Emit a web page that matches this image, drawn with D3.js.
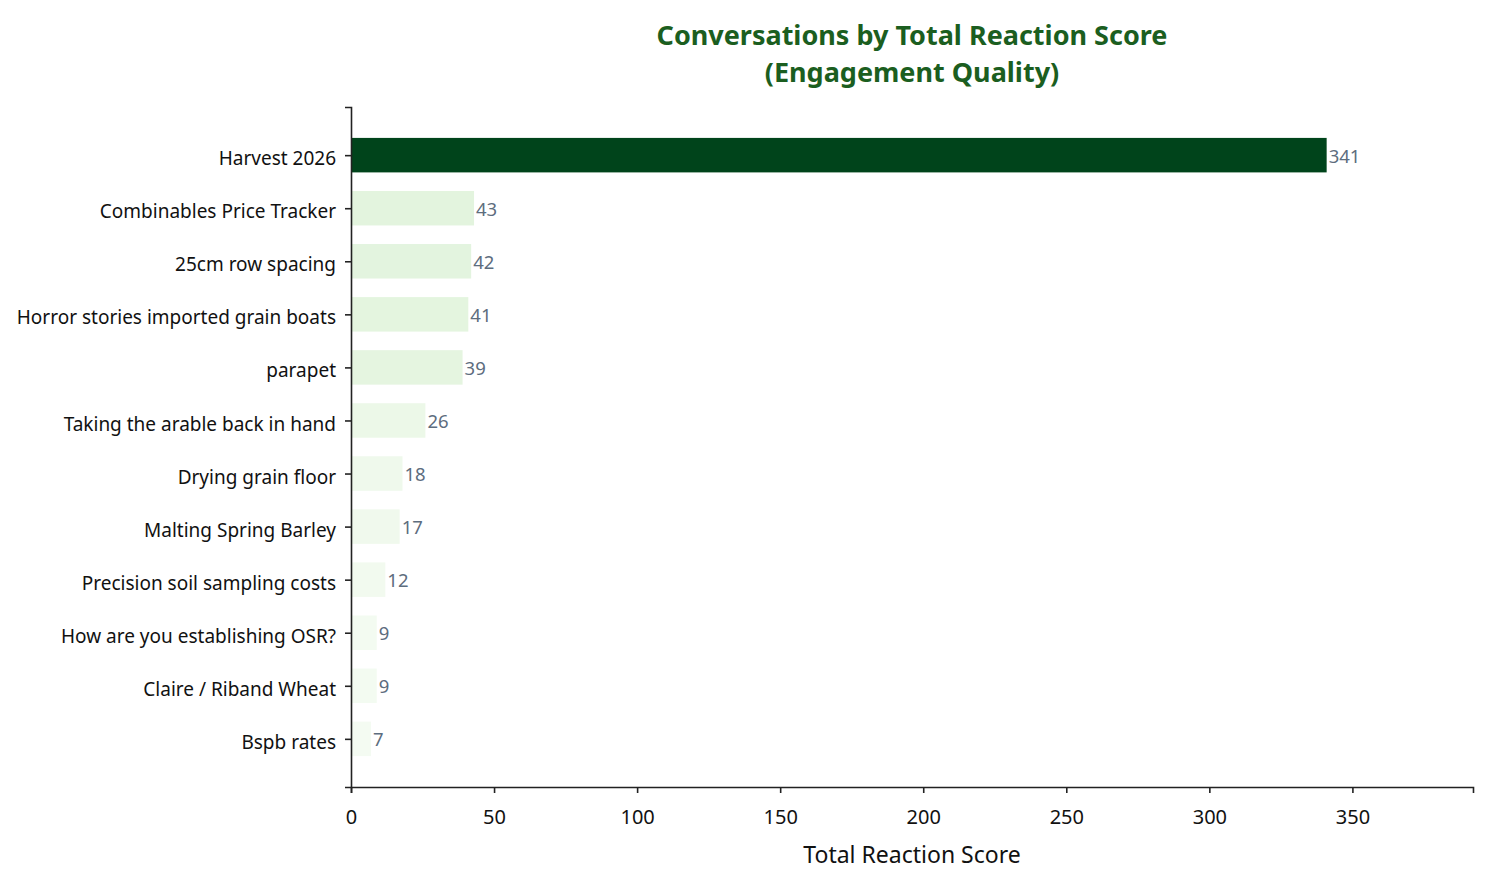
<!DOCTYPE html>
<meta charset="utf-8">
<style>
body { margin: 0; background: #fff; }
text { font-family: "Noto Sans", sans-serif; }
.domain, .tick line { stroke: #222; }
</style>
<body>
<script src="https://d3js.org/d3.v7.min.js"></script>
<script>

var topics = ["Harvest 2026", "Combinables Price Tracker", "25cm row spacing",
    "Horror stories imported grain boats", "parapet", "Taking the arable back in hand",
    "Drying grain floor", "Malting Spring Barley", "Precision soil sampling costs",
    "How are you establishing OSR?", "Claire / Riband Wheat", "Bspb rates"];
var scores = [341, 43, 42, 41, 39, 26, 18, 17, 12, 9, 9, 7];
var xTicks = [0, 50, 100, 150, 200, 250, 300, 350];

var width = 1487, height = 885,
    margin = {top: 107, right: 14, bottom: 98, left: 351};

var svg = d3.select("body").append("svg")
    .attr("width", width)
    .attr("height", height);

var maxScore = d3.max(scores);

var x = d3.scaleLinear()
    .domain([0, maxScore * 1.15])
    .range([margin.left, width - margin.right]);

// matplotlib-style bar band: bar height 0.65 of a step, 5% padding
var n = topics.length,
    barH = 0.65,
    pad = (n - 1 + barH) * 0.05 + barH / 2;
var yLin = d3.scaleLinear()
    .domain([-pad, n - 1 + pad])
    .range([margin.top, height - margin.bottom]);
var step = yLin(1) - yLin(0);

var color = function(v) { return d3.interpolateGreens(v / maxScore); };

svg.append("g")
  .selectAll("rect")
    .data(scores)
  .enter().append("rect")
    .attr("x", x(0))
    .attr("y", function(d, i) { return yLin(i) - step * barH / 2; })
    .attr("width", function(d) { return x(d) - x(0); })
    .attr("height", step * barH)
    .attr("fill", color);

svg.append("g")
  .selectAll("text")
    .data(scores)
  .enter().append("text")
    .attr("x", function(d) { return x(d) + 2; })
    .attr("y", function(d, i) { return yLin(i) + 1; })
    .attr("dy", "0.35em")
    .attr("font-size", 18.5)
    .attr("fill", "#5d6d7e")
    .text(function(d) { return d; });

// y axis
var yAxis = d3.axisLeft(yLin)
    .tickValues(d3.range(n))
    .tickFormat(function(i) { return topics[i]; })
    .tickSize(6)
    .tickPadding(9);

var gy = svg.append("g")
    .attr("transform", "translate(" + margin.left + ",0)")
    .call(yAxis);
gy.select(".domain").attr("stroke-width", 1.6);
gy.selectAll(".tick line").attr("stroke-width", 1.6);
gy.selectAll(".tick text")
    .attr("font-size", 19)
    .attr("fill", "#111")
    .attr("y", 3.5);

// x axis
var xAxis = d3.axisBottom(x)
    .tickValues(xTicks)
    .tickSize(6)
    .tickPadding(17);

var gx = svg.append("g")
    .attr("transform", "translate(0," + (height - margin.bottom) + ")")
    .call(xAxis);
gx.select(".domain").attr("stroke-width", 1.6);
gx.selectAll(".tick line").attr("stroke-width", 1.6);
gx.selectAll(".tick text").attr("font-size", 20).attr("fill", "#111");

svg.append("text")
    .attr("x", (margin.left + width - margin.right) / 2)
    .attr("y", 863)
    .attr("text-anchor", "middle")
    .attr("font-size", 23)
    .attr("fill", "#111")
    .text("Total Reaction Score");

var title = svg.append("text")
    .attr("text-anchor", "middle")
    .attr("font-size", 27)
    .attr("font-weight", "bold")
    .attr("fill", "#1b5e20");
title.append("tspan")
    .attr("x", (margin.left + width - margin.right) / 2)
    .attr("y", 45)
    .text("Conversations by Total Reaction Score");
title.append("tspan")
    .attr("x", (margin.left + width - margin.right) / 2)
    .attr("y", 82)
    .text("(Engagement Quality)");

</script>
</body>
